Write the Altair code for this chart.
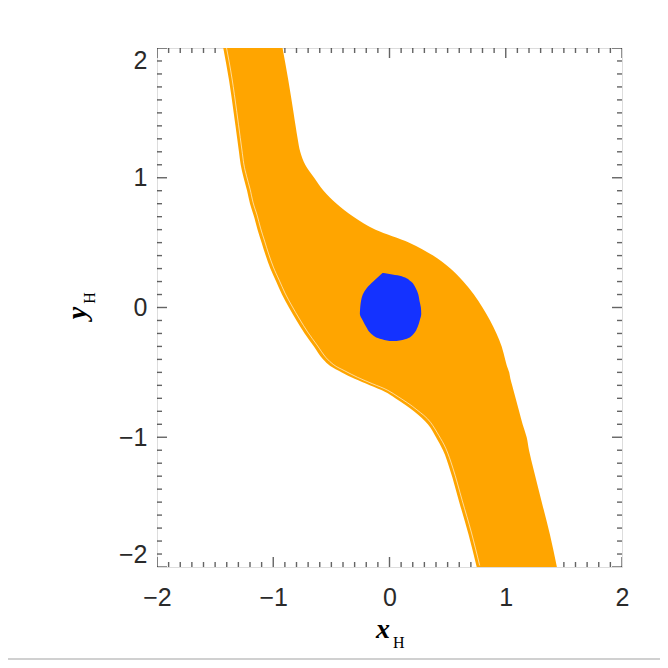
import altair as alt
import pandas as pd

# ---- data ----
# orange band: left and right edges read at fixed y levels
band_y = [2.0, 1.75, 1.5, 1.4, 1.3, 1.2, 1.1, 1.0,
          0.9, 0.8, 0.7, 0.6, 0.5, 0.4, 0.3, 0.2, 0.1, 0.0,
          -0.1, -0.2, -0.3, -0.4,
          -0.45, -0.5, -0.55, -0.6, -0.65, -0.7,
          -0.8, -0.9, -1.0, -1.1,
          -1.25, -1.5, -1.75, -2.0]
band_left = [-1.43, -1.38, -1.34, -1.325, -1.31, -1.295, -1.28, -1.255,
             -1.225, -1.20, -1.165, -1.135, -1.10, -1.065, -1.025, -0.975, -0.925, -0.865,
             -0.80, -0.73, -0.65, -0.57,
             -0.51, -0.41, -0.30, -0.17, -0.04, 0.05,
             0.21, 0.33, 0.40, 0.46,
             0.52, 0.60, 0.68, 0.75]
band_right = [-0.92, -0.87, -0.825, -0.808, -0.79, -0.768, -0.725, -0.648,
              -0.567, -0.455, -0.31, -0.12, 0.17, 0.375, 0.524, 0.635, 0.726, 0.80,
              0.865, 0.92, 0.965, 0.995,
              1.01, 1.03, 1.04, 1.055, 1.07, 1.085,
              1.115, 1.145, 1.18, 1.20,
              1.24, 1.31, 1.38, 1.44]

# blue blob: left and right edges at fixed y levels
blob_y = [0.265, 0.236, 0.20, 0.15, 0.10, 0.05, 0.0, -0.05, -0.10, -0.15, -0.20, -0.24, -0.258]
blob_left = [-0.06, -0.098, -0.14, -0.195, -0.23, -0.245, -0.252, -0.255, -0.23, -0.20, -0.16, -0.083, 0.0]
blob_right = [-0.05, 0.12, 0.185, 0.225, 0.248, 0.258, 0.27, 0.273, 0.26, 0.242, 0.21, 0.15, 0.06]

major_ticks = [-2, -1, 0, 1, 2]
minor_ticks = [round(-2 + 0.1 * i, 1) for i in range(41)]

W, H = 465, 519
PAD = {"left": 149, "top": 40, "right": 38, "bottom": 93}

band = pd.DataFrame({"y": band_y, "xl": band_left, "xr": band_right, "idx": list(range(len(band_y)))})
blob = pd.DataFrame({"y": blob_y, "xl": blob_left, "xr": blob_right})
ticks = pd.DataFrame({
    "v": minor_ticks,
    "len": [20 if v in major_ticks else 10 for v in minor_ticks],
})
one = pd.DataFrame({"k": [0]})

xs = alt.Scale(domain=[-2, 2], nice=False, zero=False)
ys = alt.Scale(domain=[-2, 2], nice=False, zero=False)

LABEL_FONT = "Liberation Sans"
x_axis = alt.Axis(values=major_ticks, format="d", ticks=False, tickSize=0, domain=False, grid=False,
                  labelFlush=False, labelOverlap=False, labelPadding=18, labelFont=LABEL_FONT,
                  labelFontSize=25, labelColor="#2a2a2a", title=None)
y_axis = alt.Axis(values=major_ticks, format="d", ticks=False, tickSize=0, domain=False, grid=False,
                  labelFlush=True, labelOverlap=False, labelPadding=10, labelFont=LABEL_FONT,
                  labelFontSize=25, labelColor="#2a2a2a", title=None)


def X(field):
    return alt.X(field, scale=xs, axis=x_axis)


def Y(field):
    return alt.Y(field, scale=ys, axis=y_axis)


TICK_COLOR = "#222222"
tick_base = alt.Chart(ticks)
t_bottom = tick_base.mark_tick(orient="vertical", clip=True, thickness=1.4, color=TICK_COLOR).encode(
    x=X("v:Q"), y=alt.value(H), size=alt.Size("len:Q", scale=None))
t_top = tick_base.mark_tick(orient="vertical", clip=True, thickness=1.4, color=TICK_COLOR).encode(
    x=X("v:Q"), y=alt.value(0), size=alt.Size("len:Q", scale=None))
t_left = tick_base.mark_tick(orient="horizontal", clip=True, thickness=1.4, color=TICK_COLOR).encode(
    y=Y("v:Q"), x=alt.value(0), size=alt.Size("len:Q", scale=None))
t_right = tick_base.mark_tick(orient="horizontal", clip=True, thickness=1.4, color=TICK_COLOR).encode(
    y=Y("v:Q"), x=alt.value(W), size=alt.Size("len:Q", scale=None))

band_layer = alt.Chart(band).mark_area(orient="horizontal", color="#FFA500", interpolate="monotone",
                                       clip=True).encode(
    y=Y("y:Q"),
    x=X("xl:Q"),
    x2="xr:Q",
)

streak = alt.Chart(band).mark_line(color="white", strokeWidth=1, opacity=0.6, xOffset=3, yOffset=-1.5,
                                   interpolate="monotone", clip=True).encode(
    x=X("xl:Q"),
    y=Y("y:Q"),
    order="idx:Q",
)

blob_layer = alt.Chart(blob).mark_area(orient="horizontal", color="#1432FF", interpolate="monotone").encode(
    y=Y("y:Q"),
    x=X("xl:Q"),
    x2="xr:Q",
)

txt = alt.Chart(one)
x_title = txt.mark_text(font="Liberation Serif", fontSize=28, fontWeight="bold", fontStyle="italic",
                        align="center", baseline="alphabetic", color="black").encode(
    x=alt.value(226), y=alt.value(590), text=alt.value("x"))
x_sub = txt.mark_text(font="Liberation Serif", fontSize=16, align="left", baseline="alphabetic",
                      color="black").encode(
    x=alt.value(236), y=alt.value(600), text=alt.value("H"))
y_title = txt.mark_text(font="Liberation Serif", fontSize=28, fontWeight="bold", fontStyle="italic",
                        align="center", baseline="alphabetic", angle=270, color="black").encode(
    x=alt.value(-71), y=alt.value(265), text=alt.value("y"))
y_sub = txt.mark_text(font="Liberation Serif", fontSize=16, align="center", baseline="alphabetic",
                      angle=270, color="black").encode(
    x=alt.value(-62), y=alt.value(250), text=alt.value("H"))

page_line = txt.mark_rule(color="#d0d0d0", strokeWidth=2).encode(
    x=alt.value(-149), x2=alt.value(W + 38), y=alt.value(611))

chart = alt.layer(
    t_bottom, t_top, t_left, t_right, band_layer, streak, blob_layer,
    x_title, x_sub, y_title, y_sub, page_line,
).properties(
    width=W, height=H, padding=PAD, autosize=alt.AutoSizeParams(type="none"),
).configure_view(
    stroke="#444444", strokeWidth=2, fill="white"
).configure(background="white")

chart.save("out.html", embed_options={"renderer": "svg", "actions": False})
